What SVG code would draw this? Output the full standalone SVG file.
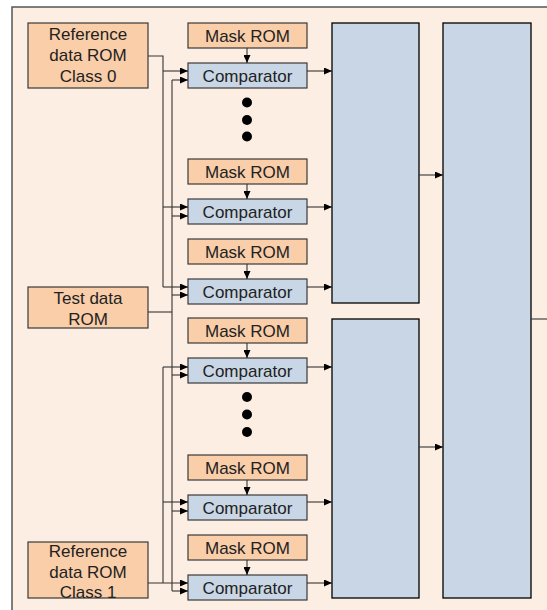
<svg xmlns="http://www.w3.org/2000/svg" width="547" height="610" viewBox="0 0 547 610">
<defs>
<marker id="ah" markerWidth="8" markerHeight="7" refX="8" refY="3.5" orient="auto" markerUnits="userSpaceOnUse">
<path d="M0,0 L8,3.5 L0,7 z" fill="#000"/>
</marker>
<style>
.peach{fill:#F9CEA9;stroke:#3a3a3a;stroke-width:1.2}
.blue{fill:#C9D6E6;stroke:#3a3a3a;stroke-width:1.2}
.big{fill:#C9D6E6;stroke:#000;stroke-width:1.3}
.t{font-family:"Liberation Sans",Arial,sans-serif;font-size:17px;fill:#222;text-anchor:middle}
.w{fill:none;stroke:#333;stroke-width:1.1}
.a{fill:none;stroke:#333;stroke-width:1.1;marker-end:url(#ah)}
.dot{fill:#000}
</style>
</defs>
<rect x="12" y="7" width="560" height="620" fill="#FDEEE3" stroke="#555" stroke-width="1.5"/>

<g id="ref0"><rect class="peach" x="28" y="23" width="120" height="65"/>
<text class="t" x="88" y="40">Reference</text><text class="t" x="88" y="61">data ROM</text><text class="t" x="88" y="82">Class 0</text></g>
<g id="test"><rect class="peach" x="28" y="287" width="120" height="41"/>
<text class="t" x="88" y="304">Test data</text><text class="t" x="88" y="325">ROM</text></g>
<g id="ref1"><rect class="peach" x="28" y="542" width="120" height="56"/>
<text class="t" x="88" y="557">Reference</text><text class="t" x="88" y="578">data ROM</text><text class="t" x="88" y="598">Class 1</text></g>

<g id="mask1"><rect class="peach" x="188" y="23" width="119" height="25"/><text class="t" x="247.5" y="41.5">Mask ROM</text></g>
<g id="comp1"><rect class="blue" x="188" y="63" width="119" height="25"/><text class="t" x="247.5" y="81.5">Comparator</text></g>
<g id="mask2"><rect class="peach" x="188" y="159" width="119" height="25"/><text class="t" x="247.5" y="177.5">Mask ROM</text></g>
<g id="comp2"><rect class="blue" x="188" y="199" width="119" height="25"/><text class="t" x="247.5" y="217.5">Comparator</text></g>
<g id="mask3"><rect class="peach" x="188" y="239" width="119" height="25"/><text class="t" x="247.5" y="257.5">Mask ROM</text></g>
<g id="comp3"><rect class="blue" x="188" y="279" width="119" height="25"/><text class="t" x="247.5" y="297.5">Comparator</text></g>
<g id="mask4"><rect class="peach" x="188" y="318" width="119" height="25"/><text class="t" x="247.5" y="336.5">Mask ROM</text></g>
<g id="comp4"><rect class="blue" x="188" y="358" width="119" height="25"/><text class="t" x="247.5" y="376.5">Comparator</text></g>
<g id="mask5"><rect class="peach" x="188" y="455" width="119" height="25"/><text class="t" x="247.5" y="473.5">Mask ROM</text></g>
<g id="comp5"><rect class="blue" x="188" y="495" width="119" height="25"/><text class="t" x="247.5" y="513.5">Comparator</text></g>
<g id="mask6"><rect class="peach" x="188" y="535" width="119" height="25"/><text class="t" x="247.5" y="553.5">Mask ROM</text></g>
<g id="comp6"><rect class="blue" x="188" y="575" width="119" height="25"/><text class="t" x="247.5" y="593.5">Comparator</text></g>

<g id="dots">
<circle class="dot" cx="247" cy="102.5" r="5"/><circle class="dot" cx="247" cy="120" r="5"/><circle class="dot" cx="247" cy="136.5" r="5"/>
<circle class="dot" cx="247" cy="397" r="5"/><circle class="dot" cx="247" cy="414.5" r="5"/><circle class="dot" cx="247" cy="432" r="5"/>
</g>

<g id="agg1"><rect class="big" x="332" y="23" width="87" height="280"/></g>
<g id="agg2"><rect class="big" x="332" y="319" width="87" height="279"/></g>
<g id="final"><rect class="big" x="443" y="23" width="88" height="575"/></g>

<g id="connectors">
<path class="a" d="M247,48 V63"/><path class="a" d="M247,184 V199"/><path class="a" d="M247,264 V279"/>
<path class="a" d="M247,343 V358"/><path class="a" d="M247,480 V495"/><path class="a" d="M247,560 V575"/>
<path class="w" d="M148,56 H163 V287"/>
<path class="a" d="M163,71 H188"/><path class="a" d="M163,207 H188"/><path class="a" d="M163,287 H188"/>
<path class="w" d="M148,312 H172"/>
<path class="w" d="M172,80 V591"/>
<path class="a" d="M172,80 H188"/><path class="a" d="M172,216 H188"/><path class="a" d="M172,295 H188"/>
<path class="a" d="M172,375 H188"/><path class="a" d="M172,511 H188"/><path class="a" d="M172,591 H188"/>
<path class="w" d="M163,367 V583"/>
<path class="a" d="M163,367 H188"/><path class="a" d="M163,502 H188"/><path class="a" d="M148,583 H188"/>
<path class="a" d="M307,71 H332"/><path class="a" d="M307,207 H332"/><path class="a" d="M307,287 H332"/>
<path class="a" d="M307,367 H332"/><path class="a" d="M307,502 H332"/><path class="a" d="M307,583 H332"/>
<path class="a" d="M419,175 H443"/><path class="a" d="M419,447 H443"/>
<path class="w" d="M531,319 H547"/>
</g>
</svg>
